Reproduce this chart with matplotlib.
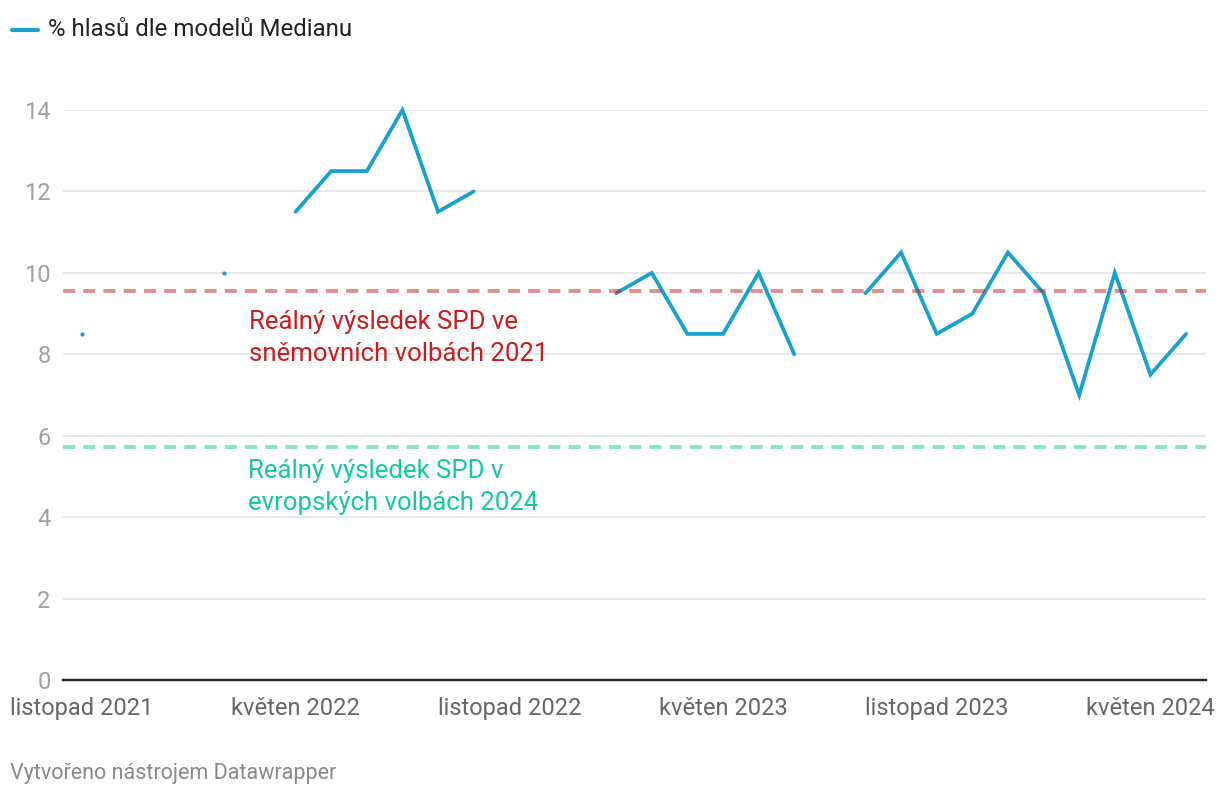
import numpy as np
import matplotlib
matplotlib.use("Agg")
from matplotlib import pyplot as plt

plt.rcParams['font.family'] = ['Roboto', 'DejaVu Sans']

# monthly Median model values, Nov 2021 .. Jun 2024 (nan = no data)
months = list(range(32))
values = [8.5, np.nan, np.nan, np.nan, 10.0, np.nan,
          11.5, 12.5, 12.5, 14.0, 11.5, 12.0,
          np.nan, np.nan, np.nan,
          9.5, 10.0, 8.5, 8.5, 10.0, 8.0,
          np.nan,
          9.5, 10.5, 8.5, 9.0, 10.5, 9.5, 7.0, 10.0, 7.5, 8.5]
tick_pos = [0, 6, 12, 18, 24, 30]
tick_labels = ["listopad 2021", "květen 2022", "listopad 2022",
               "květen 2023", "listopad 2023", "květen 2024"]
yticks = [0, 2, 4, 6, 8, 10, 12, 14]
spd_2021 = 9.56
spd_2024 = 5.73

blue = "#18a1cd"
red = "#c71e1d"
teal = "#15c99e"

W, H = 1220, 796
fig = plt.figure(figsize=(W / 100, H / 100), dpi=100)
ax = fig.add_axes([63 / W, 1 - 680 / H, (1206 - 63) / W, (680 - 110) / H])

vals = np.array(values)
ax.plot(months, vals, color=blue, lw=2.7, solid_capstyle="round",
        solid_joinstyle="miter", zorder=3, clip_on=False)
# isolated points have no segment, show them as dots
prev = np.r_[np.nan, vals[:-1]]
nxt = np.r_[vals[1:], np.nan]
iso = ~np.isnan(vals) & np.isnan(prev) & np.isnan(nxt)
ax.plot(np.array(months)[iso], vals[iso], "o", color=blue, ms=3.0, mew=0, zorder=3)

ax.axhline(spd_2021, color=red, alpha=0.5, lw=2.8, dashes=(3.1, 2.1), zorder=4)
ax.axhline(spd_2024, color=teal, alpha=0.5, lw=2.8, dashes=(3.1, 2.1), zorder=4)

ax.text(4.7, 8.40, "Reálný výsledek SPD ve\nsněmovních volbách 2021", color=red,
        fontsize=18.5, va="center", ha="left", linespacing=1.38)
ax.text(4.65, 4.74, "Reálný výsledek SPD v\nevropských volbách 2024", color=teal,
        fontsize=18.5, va="center", ha="left", linespacing=1.38)

ax.set_xlim(-0.53, 31.56)
ax.set_ylim(0, 14)
ax.set_yticks(yticks)
ax.set_xticks(tick_pos)
ax.set_xticklabels(tick_labels)
ax.tick_params(axis="y", length=0, pad=9, labelsize=17, labelcolor="#a0a0a0")
ax.tick_params(axis="x", length=0, pad=12, labelsize=17, labelcolor="#666666")
ax.grid(axis="y", color="#e3e3e3", lw=1.2)
ax.set_axisbelow(True)
for s in ["top", "right", "left"]:
    ax.spines[s].set_visible(False)
ax.spines["bottom"].set_color("#222222")
ax.spines["bottom"].set_linewidth(1.7)

# legend
fig.lines.append(plt.Line2D([12 / W, 38 / W], [1 - 30 / H, 1 - 30 / H], color=blue,
                            lw=3.0, solid_capstyle="round", transform=fig.transFigure))
fig.text(48 / W, 1 - 30 / H, "% hlasů dle modelů Medianu", fontsize=17.3,
         color="#222222", va="center", ha="left")

fig.text(10 / W, 1 - 773 / H, "Vytvořeno nástrojem Datawrapper", fontsize=15.5,
         color="#888888", va="center", ha="left")

fig.savefig("out.png", dpi=100)
